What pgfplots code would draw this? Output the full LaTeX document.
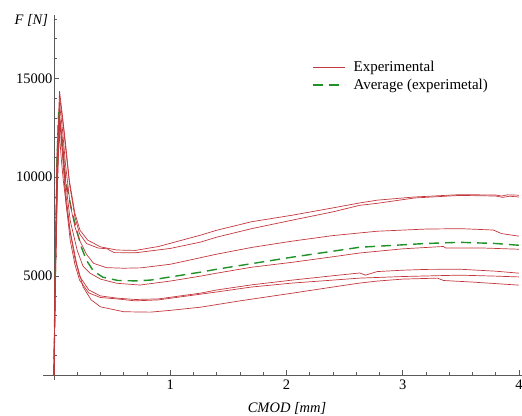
\documentclass[border=0pt]{standalone}
\usepackage{pgfplots}
\pgfplotsset{compat=1.18}
\usepackage{fontspec}
\setmainfont{Liberation Serif}
\definecolor{expred}{RGB}{195,55,60}
\definecolor{avggreen}{RGB}{30,145,40}
\definecolor{axgray}{RGB}{90,90,90}
\begin{document}
\fontsize{14.5bp}{17bp}\selectfont
\begin{tikzpicture}
\path[use as bounding box] (-43.5bp,-36bp) rectangle (478.5bp,380bp);
\begin{axis}[
  scale only axis, width=478.5bp, height=365bp,
  axis lines=middle,
  axis line style={-, axgray, line width=0.6pt},
  xmin=-0.09, xmax=4.026, ymin=-250, ymax=18200,
  xtick={1,2,3,4},
  minor xtick={0.2,0.4,0.6,0.8,1.2,1.4,1.6,1.8,2.2,2.4,2.6,2.8,3.2,3.4,3.6,3.8},
  ytick={5000,10000,15000},
  minor ytick={1000,2000,3000,4000,6000,7000,8000,9000,11000,12000,13000,14000,16000,17000,18000},
  tick align=inside,
  major tick length=5bp, minor tick length=3bp,
  tick style={axgray, line width=0.5pt},
  scaled y ticks=false,
  /pgf/number format/assume math mode=true,
  yticklabel style={/pgf/number format/fixed, /pgf/number format/1000 sep={}, font=\fontsize{14.5bp}{17bp}\selectfont, inner sep=1.5bp},
  xticklabel style={font=\fontsize{14.5bp}{17bp}\selectfont},
  xlabel={\itshape CMOD [mm]},
  ylabel={\itshape F [N]},
  xlabel style={at={(axis description cs:0.509,0)}, anchor=center, yshift=-28bp, font=\fontsize{14.5bp}{17bp}\selectfont},
  ylabel style={at={(axis description cs:0.02,0.985)}, anchor=east, rotate=0, font=\fontsize{14.5bp}{17bp}\selectfont},
  legend style={draw=none, fill=none, at={(axis description cs:0.557,0.885)}, anchor=north west, font=\fontsize{15bp}{17bp}\selectfont, row sep=1bp, inner sep=2bp},
  legend cell align=left,
  legend image code/.code={\draw[#1] (0bp,0bp) -- (32bp,0bp); \path (38bp,0bp);},
  clip=false,
]
% A
\addplot[expred, line width=0.7pt] coordinates {
(0,0)(0.01,5000)(0.025,11000)(0.048,14350)(0.075,13000)(0.103,11530)(0.132,9850)(0.18,8180)(0.224,7320)(0.29,6820)(0.40,6480)(0.54,6320)(0.7,6300)(0.9,6500)(1.26,7070)(1.4,7320)(1.7,7750)(2.05,8080)(2.4,8450)(2.63,8700)(2.78,8840)(3.1,9000)(3.49,9120)(3.8,9100)(3.85,9050)(3.9,9110)(4.0,9090)};
\addlegendentry{Experimental}
% Average
\addplot[avggreen, line width=1.4pt, dash pattern=on 10bp off 6bp] coordinates {
(0,0)(0.01,4500)(0.025,10500)(0.04,13300)(0.065,12000)(0.1,9850)(0.15,8400)(0.195,7320)(0.24,6400)(0.28,5800)(0.34,5250)(0.42,4950)(0.55,4780)(0.7,4760)(0.83,4800)(1.26,5200)(1.4,5350)(2.05,5960)(2.63,6460)(2.78,6510)(3.2,6650)(3.49,6710)(3.8,6650)(4.0,6560)};
\addlegendentry{Average (experimetal)}
% B
\addplot[expred, line width=0.7pt, forget plot] coordinates {
(0,0)(0.01,4500)(0.025,10500)(0.05,14000)(0.08,12600)(0.105,11200)(0.135,9600)(0.18,8000)(0.22,7150)(0.28,6650)(0.38,6420)(0.46,6380)(0.48,6300)(0.52,6190)(0.7,6180)(1.0,6400)(1.26,6720)(1.4,6970)(1.7,7400)(2.05,7830)(2.4,8250)(2.63,8580)(2.78,8680)(3.1,8950)(3.49,9080)(3.8,9050)(3.86,8980)(3.92,9040)(4.0,9000)};
% C
\addplot[expred, line width=0.7pt, forget plot] coordinates {
(0,0)(0.01,5000)(0.03,11500)(0.05,13600)(0.075,12300)(0.1,10600)(0.14,8600)(0.18,7500)(0.22,6820)(0.28,6100)(0.34,5650)(0.45,5430)(0.6,5400)(0.75,5420)(1.0,5600)(1.4,6110)(1.7,6450)(2.05,6770)(2.4,7050)(2.78,7270)(3.2,7380)(3.5,7400)(3.78,7330)(3.85,7150)(4.0,7020)};
% D
\addplot[expred, line width=0.7pt, forget plot] coordinates {
(0,0)(0.01,5000)(0.03,11000)(0.045,13200)(0.075,11800)(0.1,9800)(0.14,7800)(0.2,6300)(0.25,5500)(0.31,5150)(0.4,4850)(0.54,4640)(0.74,4550)(1.0,4750)(1.26,5000)(1.4,5150)(1.7,5450)(2.05,5700)(2.4,5980)(2.63,6170)(3.0,6380)(3.35,6500)(3.37,6420)(3.7,6420)(4.0,6360)};
% E
\addplot[expred, line width=0.7pt, forget plot] coordinates {
(0,0)(0.01,4500)(0.03,10500)(0.05,13000)(0.075,11300)(0.1,9300)(0.14,7200)(0.18,5900)(0.22,5000)(0.3,4300)(0.4,4000)(0.54,3890)(0.7,3820)(0.9,3850)(1.26,4140)(1.4,4300)(1.7,4560)(2.05,4800)(2.4,5020)(2.63,5160)(2.68,5050)(2.78,5230)(3.0,5300)(3.2,5340)(3.49,5350)(3.8,5250)(4.0,5150)};
% F
\addplot[expred, line width=0.7pt, forget plot] coordinates {
(0,0)(0.01,4000)(0.03,10000)(0.05,12800)(0.075,11000)(0.1,8900)(0.14,6800)(0.18,5600)(0.22,4800)(0.3,4150)(0.4,3920)(0.54,3850)(0.7,3750)(0.9,3800)(1.4,4200)(1.7,4450)(2.05,4650)(2.4,4800)(2.63,4900)(3.0,4980)(3.49,5050)(3.8,5000)(4.0,4960)};
% G
\addplot[expred, line width=0.7pt, forget plot] coordinates {
(0,0)(0.01,4000)(0.03,9500)(0.045,12300)(0.065,10800)(0.08,9850)(0.11,8400)(0.138,7320)(0.195,5640)(0.25,4460)(0.32,3800)(0.4,3450)(0.6,3200)(0.83,3180)(1.0,3270)(1.26,3430)(1.6,3750)(2.05,4140)(2.4,4450)(2.63,4650)(2.78,4750)(3.0,4850)(3.3,4900)(3.35,4780)(3.6,4700)(4.0,4545)};
\end{axis}
\end{tikzpicture}
\end{document}
